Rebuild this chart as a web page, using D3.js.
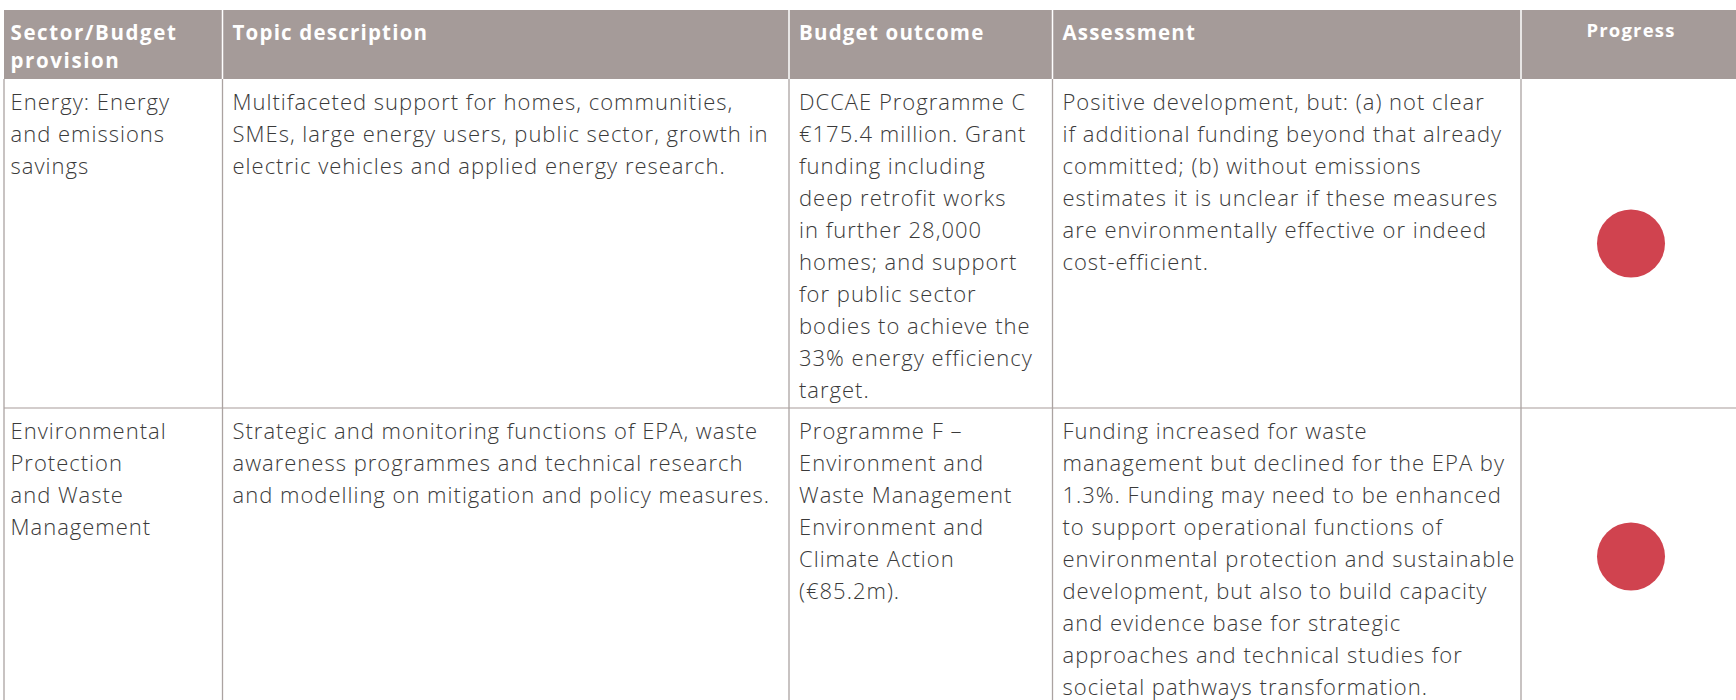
<!DOCTYPE html>
<html>
<head>
<meta charset="utf-8">
<script src="https://cdn.jsdelivr.net/npm/d3@7/dist/d3.min.js"></script>
<style>
  body { margin: 0; background: #fff; overflow: hidden; }
  svg text { font-family: "Open Sans", sans-serif; }
</style>
</head>
<body>
<div id="chart-area"></div>
<script>
/*
*    table.js
*    Budget provisions / assessment table
*/

// ---- data (one entry per table row, lines as wrapped in the source) ----
var headers = [["Sector/Budget", "provision"], ["Topic description"], ["Budget outcome"], ["Assessment"], ["Progress"]];

var sectors = [
    ["Energy: Energy", "and emissions", "savings"],
    ["Environmental", "Protection", "and Waste", "Management"]
];

var topics = [
    ["Multifaceted support for homes, communities,",
     "SMEs, large energy users, public sector, growth in",
     "electric vehicles and applied energy research."],
    ["Strategic and monitoring functions of EPA, waste",
     "awareness programmes and technical research",
     "and modelling on mitigation and policy measures."]
];

var outcomes = [
    ["DCCAE Programme C", "€175.4 million. Grant", "funding including", "deep retrofit works",
     "in further 28,000", "homes; and support", "for public sector", "bodies to achieve the",
     "33% energy efficiency", "target."],
    ["Programme F –", "Environment and", "Waste Management", "Environment and",
     "Climate Action", "(€85.2m)."]
];

var assessments = [
    ["Positive development, but: (a) not clear", "if additional funding beyond that already",
     "committed; (b) without emissions", "estimates it is unclear if these measures",
     "are environmentally effective or indeed", "cost-efficient."],
    ["Funding increased for waste", "management but declined for the EPA by",
     "1.3%. Funding may need to be enhanced", "to support operational functions of",
     "environmental protection and sustainable", "development, but also to build capacity",
     "and evidence base for strategic", "approaches and technical studies for",
     "societal pathways transformation."]
];

var progress = ["red", "red"];

// ---- layout ----
var width = 1736, height = 700;
var colEdges = [4, 222.5, 789, 1052.5, 1521, 1741];
var headTop = 10, headBottom = 79;
var lineH = 32;

var statusColor = d3.scaleOrdinal()
    .domain(["red", "amber", "green"])
    .range(["#d0434f", "#f0a830", "#5aa55a"]);

var colX = d3.scaleOrdinal().domain(d3.range(5)).range(colEdges.slice(0, 5));
var colW = d3.scaleOrdinal().domain(d3.range(5)).range(d3.range(5).map(i => colEdges[i + 1] - colEdges[i]));
var padX = d3.scaleOrdinal().domain(d3.range(5)).range([6.5, 10, 10, 10, 10]);

var rows = sectors.map(function(s, i) {
    return { cells: [s, topics[i], outcomes[i], assessments[i]], status: progress[i] };
});
var yCursor = headBottom;
rows.forEach(function(r) {
    r.h = d3.max(r.cells, c => c.length) * lineH + 9;
    r.y0 = yCursor;
    yCursor += r.h;
});
var tableBottom = yCursor;

var svg = d3.select("#chart-area")
    .append("svg")
        .attr("width", width)
        .attr("height", height);

// header band
svg.append("rect")
    .attr("x", colEdges[0])
    .attr("y", headTop)
    .attr("width", colEdges[5] - colEdges[0])
    .attr("height", headBottom - headTop)
    .attr("fill", "#a59b99");

svg.selectAll(".head-sep")
    .data(colEdges.slice(1, 5))
    .join("line")
        .attr("class", "head-sep")
        .attr("x1", d => d).attr("x2", d => d)
        .attr("y1", headTop).attr("y2", headBottom)
        .attr("stroke", "#fff")
        .attr("stroke-width", 1.5);

svg.selectAll(".head-text")
    .data(headers)
    .join("text")
        .attr("class", "head-text")
        .attr("fill", "#fff")
        .attr("font-weight", 700)
        .attr("font-size", (d, i) => i == 4 ? 18.5 : 20.5)
        .attr("letter-spacing", (d, i) => i == 0 ? 1.6 : 1.2)
        .attr("text-anchor", (d, i) => i == 4 ? "middle" : "start")
        .each(function(d, i) {
            var x = i == 4 ? colX(i) + colW(i) / 2 : colX(i) + padX(i);
            d3.select(this).selectAll("tspan")
                .data(d)
                .join("tspan")
                    .attr("x", x)
                    .attr("y", (t, j) => (i == 4 ? 37 : 40) + j * 28)
                    .text(t => t);
        });

// body rows
var row = svg.selectAll(".row")
    .data(rows)
    .join("g")
        .attr("class", "row")
        .attr("transform", d => "translate(0," + d.y0 + ")");

row.append("line")
    .attr("x1", colEdges[0]).attr("x2", colEdges[5])
    .attr("y1", d => d.h).attr("y2", d => d.h)
    .attr("stroke", "#d3cdcc")
    .attr("stroke-width", 2);

row.selectAll(".cell")
    .data(d => d.cells)
    .join("text")
        .attr("class", "cell")
        .attr("fill", "#3a3a3a")
        .attr("font-weight", 300)
        .attr("font-size", 22)
        .attr("letter-spacing", 1.0)
        .each(function(d, i) {
            d3.select(this).selectAll("tspan")
                .data(d)
                .join("tspan")
                    .attr("x", colX(i) + padX(i))
                    .attr("y", (t, j) => 31 + j * lineH)
                    .text(t => t);
        });

row.append("circle")
    .attr("cx", colX(4) + colW(4) / 2)
    .attr("cy", d => d.h / 2)
    .attr("r", 34)
    .attr("fill", d => statusColor(d.status));

// vertical rules
svg.selectAll(".col-rule")
    .data(colEdges.slice(0, 5))
    .join("line")
        .attr("class", "col-rule")
        .attr("x1", d => d).attr("x2", d => d)
        .attr("y1", headBottom).attr("y2", tableBottom)
        .attr("stroke", "#aba3a1")
        .attr("stroke-width", 1.3);
</script>
</body>
</html>
